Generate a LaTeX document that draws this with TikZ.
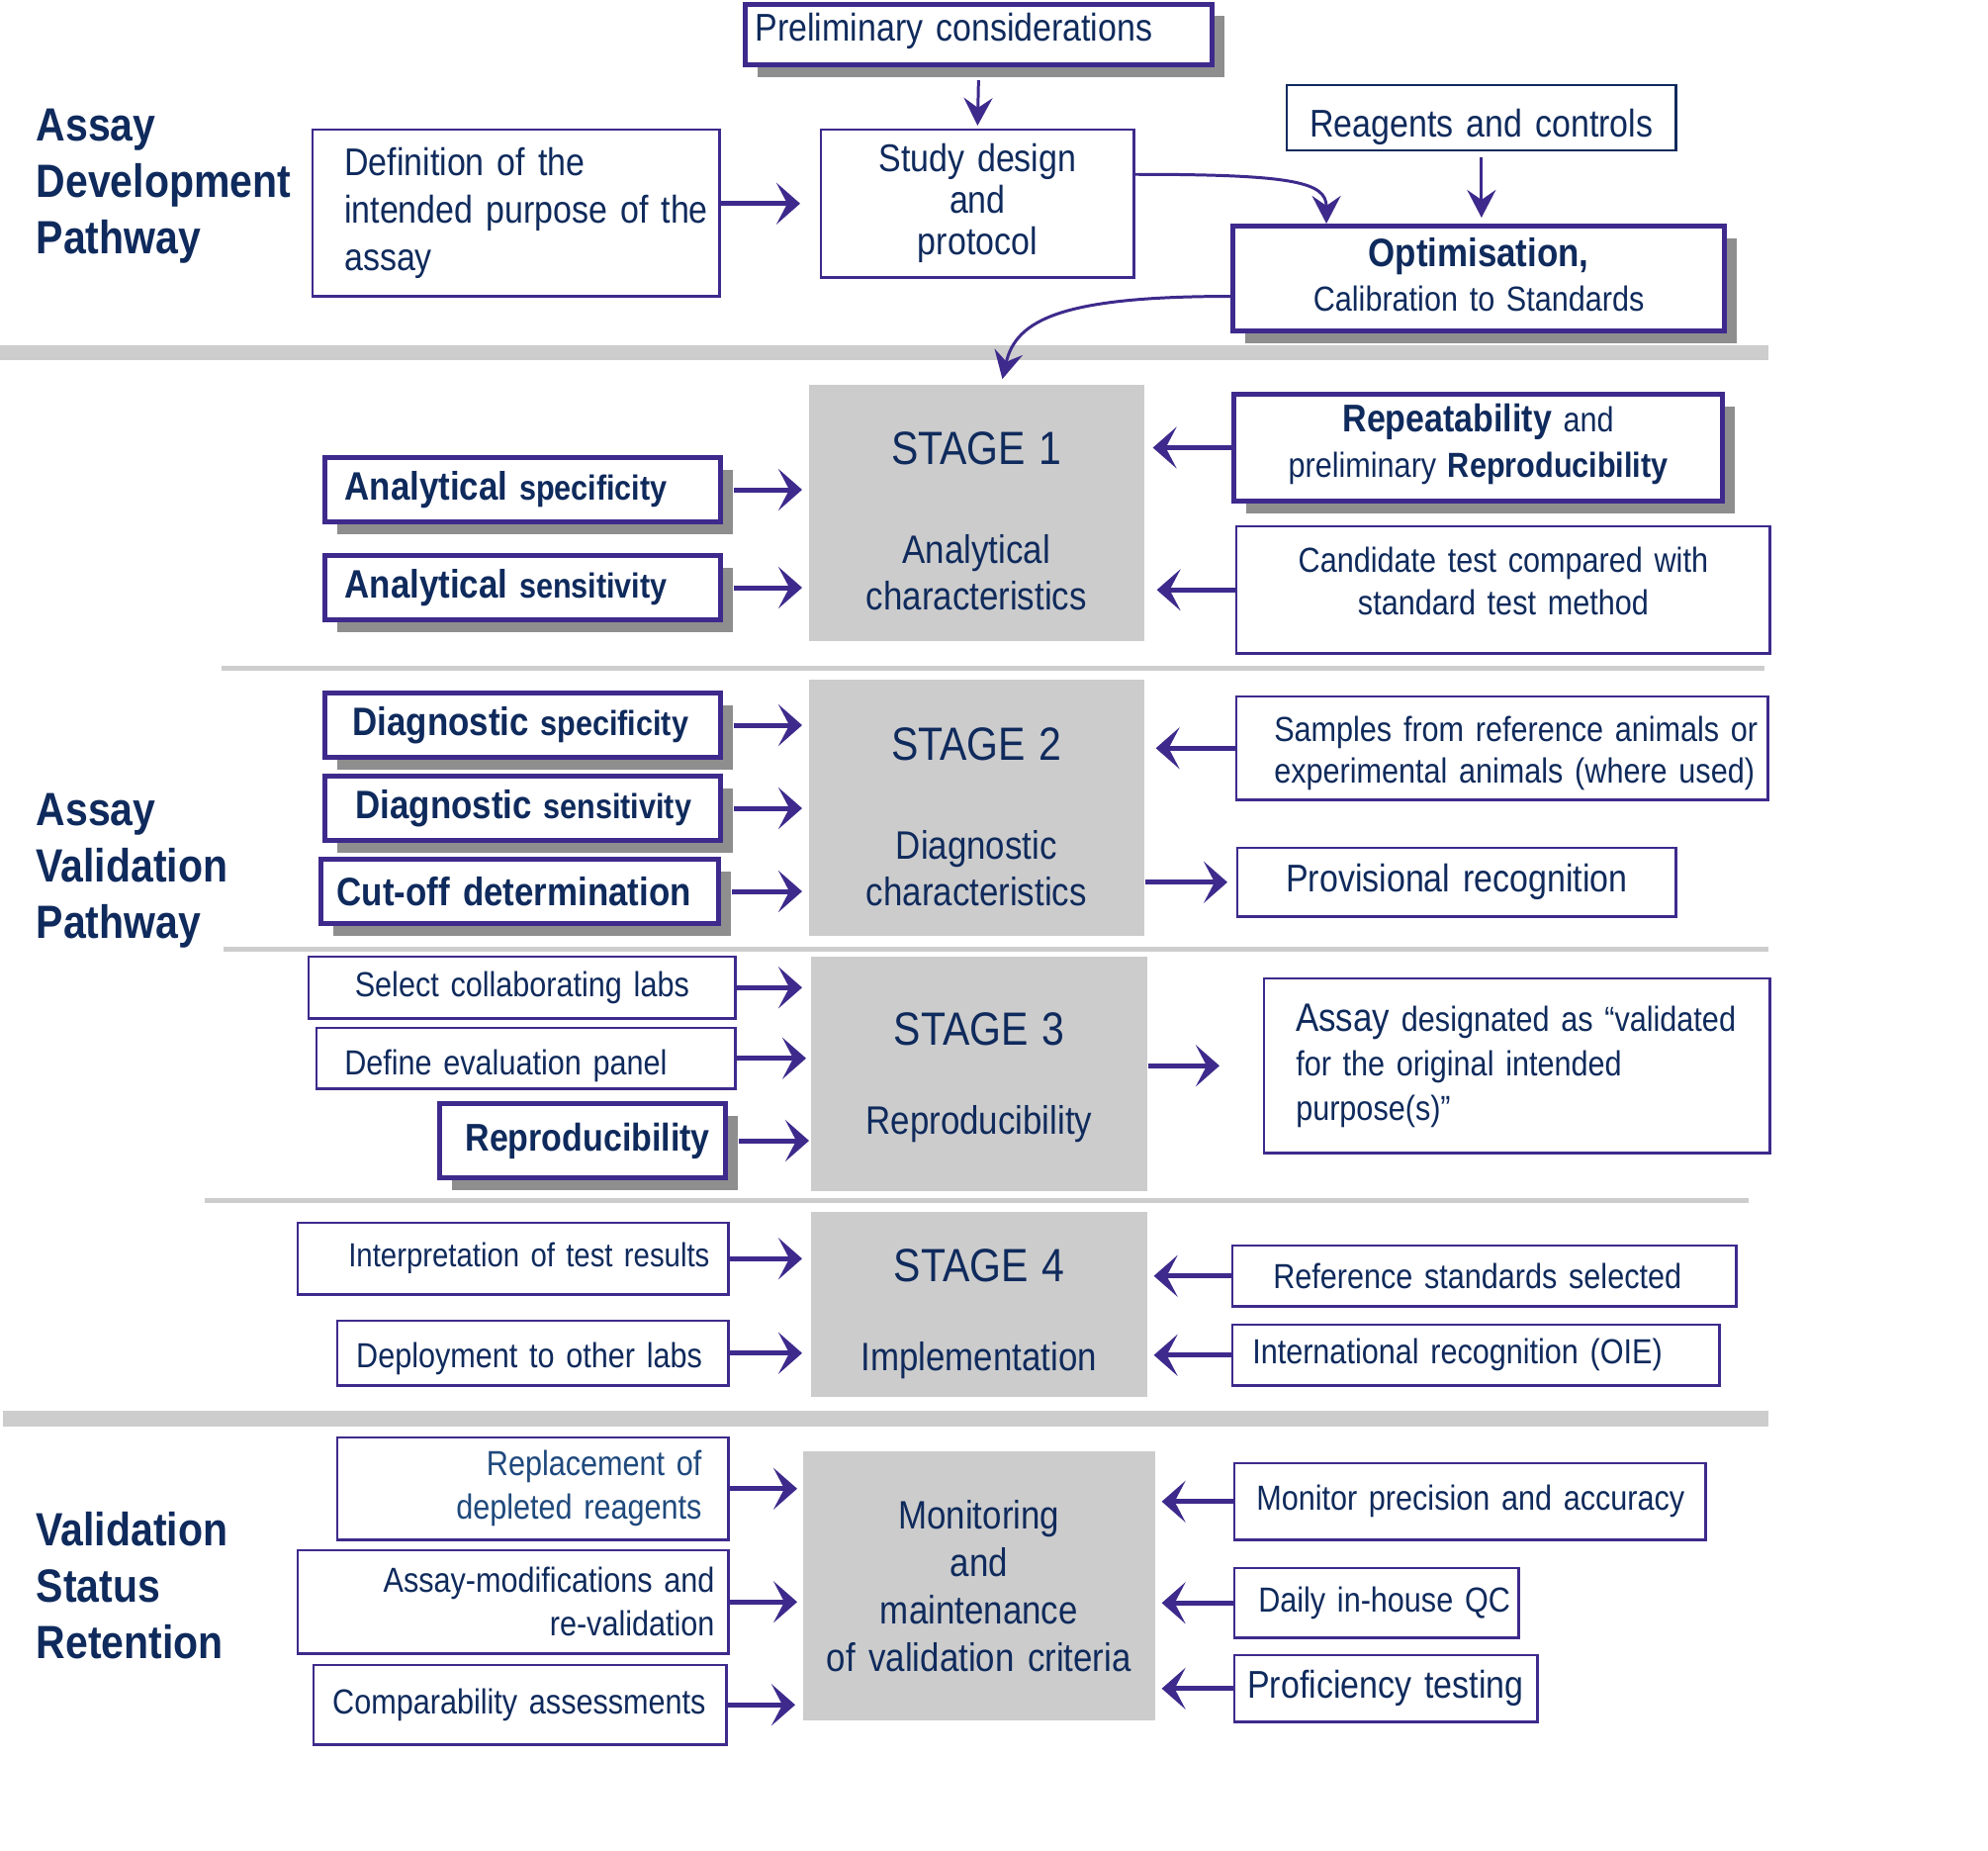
\documentclass[tikz,border=0pt]{standalone}
\usepackage{fontspec}
\setmainfont{Liberation Sans}[FakeStretch=0.87, WordSpace=0.8]
\usetikzlibrary{arrows.meta,shadows}
\definecolor{boxpurple}{HTML}{3E2A8C}
\definecolor{textnavy}{HTML}{0F2A5C}
\definecolor{textblue}{HTML}{1F497D}
\definecolor{panelgray}{HTML}{CCCCCC}
\definecolor{shadowgray}{HTML}{8E8E8E}
\definecolor{rulegray}{HTML}{CDCDCD}
\begin{document}
\begin{tikzpicture}[x=0.01cm, y=-0.01cm,
  box/.style={draw=boxpurple, line width=0.7pt, fill=white, anchor=north west,
    inner sep=0pt, text=textnavy, font=\setfs{10pt}{12.5pt}},
  boldbox/.style={box, line width=1.42pt,
    drop shadow={shadow xshift=0.12cm, shadow yshift=-0.12cm, fill=shadowgray, opacity=1}},
  lpad/.style={align=left, execute at begin node={\leftskip=#1}},
  rpad/.style={align=right, execute at begin node={\rightskip=#1}},
  sink/.style={execute at end node={\rule[-#1]{0pt}{0pt}}},
  lift/.style={execute at begin node={\rule{0pt}{#1}}},
  stagebox/.style={fill=panelgray, anchor=north west, inner sep=0pt, align=center,
    text=textnavy, font=\setfs{11.4pt}{13.4pt}},
  heading/.style={anchor=north west, inner sep=0pt, text width=4cm, align=left,
    text=textnavy, font=\setfs{13.4pt}{16.2pt}\bfseries},
  fatarrow/.style={draw=boxpurple, line width=1.42pt,
    -{Stealth[length=0.24cm, width=0.42cm, inset=0.11cm]}},
  thinarrow/.style={draw=boxpurple, line width=0.85pt,
    -{Stealth[length=0.28cm, width=0.29cm, inset=0.1cm]}}]
  \newcommand{\setfs}[2]{\fontsize{#1}{#2}\selectfont}
  \newcommand{\stagetitle}[1]{{\setfs{13.4pt}{13.4pt}#1}}

\path[use as bounding box, fill=white] (0,0) rectangle (2010,1870);

% separators
\fill[rulegray] (0,349) rectangle (1788,364);
\draw[rulegray, line width=0.05cm] (224,675) -- (1784,675);
\draw[rulegray, line width=0.05cm] (226,959) -- (1788,959);
\draw[rulegray, line width=0.05cm] (207,1213) -- (1768,1213);
\fill[rulegray] (3,1426) rectangle (1788,1442);

% development pathway
\node[heading] (devhead) at (36,109) {Assay\\Development\\Pathway};
\node[boldbox, text width=4.72cm, minimum height=0.61cm, lpad=0.1cm, sink=0.16cm, font=\setfs{11.1pt}{13.6pt}] (prelim) at (751,2) {Preliminary considerations};
\node[box, text width=4.11cm, minimum height=1.68cm, lpad=0.32cm, font=\setfs{11.1pt}{13.66pt}] (purpose) at (315,130) {Definition of the\\intended purpose of the\\assay};
\node[box, text width=3.16cm, minimum height=1.49cm, align=center, font=\setfs{11.1pt}{11.95pt}] (design) at (829,130) {Study design\\and\\protocol};
\node[box, draw=textnavy, text width=3.93cm, minimum height=0.66cm, align=center, lift=0.47cm, font=\setfs{11.1pt}{13.6pt}] (reagents) at (1300,85) {Reagents and controls};
\node[boldbox, text width=4.97cm, minimum height=1.06cm, align=center, sink=0.08cm, font=\setfs{10pt}{12.8pt}] (optim) at (1244,226) {{\setfs{11.4pt}{12.8pt}\bfseries Optimisation,}\\Calibration to Standards};

\draw[fatarrow, shorten >=0.2cm] (design.west -| purpose.east) -- (design.west);
\draw[thinarrow, shorten <=0.13cm, shorten >=0.03cm] (prelim.south) -- (design.north);
\draw[thinarrow, shorten <=0.06cm, shorten >=0.06cm] (reagents.south) -- (reagents.south |- optim.north);
\draw[thinarrow] ([yshift=0.295cm]design.east) .. controls +(160,0) and +(0,-42) .. ([xshift=0.97cm]optim.north west);

% stage 1
\node[stagebox, text width=3.39cm, minimum height=2.59cm, lift=0.5cm] (stage1) at (817,388) {\stagetitle{STAGE 1}\\[14.8pt]Analytical\\characteristics};
\node[boldbox, text width=4cm, minimum height=0.65cm, lpad=0.2cm, font=\setfs{10pt}{12.5pt}\bfseries] (aspec) at (326,460) {{\setfs{11.4pt}{12.5pt}Analytical} specificity};
\node[boldbox, text width=4cm, minimum height=0.65cm, lpad=0.2cm, font=\setfs{10pt}{12.5pt}\bfseries] (asens) at (326,559) {{\setfs{11.4pt}{12.5pt}Analytical} sensitivity};
\node[boldbox, text width=4.94cm, minimum height=1.08cm, align=center, sink=0.15cm, font=\setfs{10pt}{13.1pt}] (repeat) at (1245,396) {{\setfs{11.1pt}{13.1pt}\bfseries Repeatability} and\\preliminary \textbf{Reproducibility}};
\node[box, text width=5.39cm, minimum height=1.28cm, align=center, sink=0.18cm] (candidate) at (1249,531) {Candidate test compared with\\standard test method};

\draw[thinarrow, shorten >=0.05cm] ([yshift=-0.18cm]optim.west) .. controls +(-170,0) and +(15,-65) .. ([xshift=0.25cm]stage1.north);
\draw[fatarrow, shorten >=0.06cm] ([xshift=0.11cm]aspec.east) -- (aspec.east -| stage1.west);
\draw[fatarrow, shorten >=0.06cm] ([xshift=0.11cm]asens.east) -- (asens.east -| stage1.west);
\draw[fatarrow, shorten >=0.08cm] (repeat.west) -- (repeat.west -| stage1.east);
\draw[fatarrow, shorten >=0.12cm] (candidate.west) -- (candidate.west -| stage1.east);

% stage 2
\node[heading] (valhead) at (36,801) {Assay\\Validation\\Pathway};
\node[stagebox, text width=3.39cm, minimum height=2.59cm, lift=0.52cm] (stage2) at (817,686) {\stagetitle{STAGE 2}\\[14.8pt]Diagnostic\\characteristics};
\node[boldbox, text width=4cm, minimum height=0.65cm, lpad=0.28cm, font=\setfs{10pt}{12.5pt}\bfseries] (dspec) at (326,698) {{\setfs{11.4pt}{12.5pt}Diagnostic} specificity};
\node[boldbox, text width=4cm, minimum height=0.65cm, lpad=0.31cm, font=\setfs{10pt}{12.5pt}\bfseries] (dsens) at (326,782) {{\setfs{11.4pt}{12.5pt}Diagnostic} sensitivity};
\node[boldbox, text width=4.02cm, minimum height=0.65cm, lpad=0.16cm, font=\setfs{11.4pt}{13pt}\bfseries] (cutoff) at (322,866) {Cut-off determination};
\node[box, text width=5.37cm, minimum height=1.04cm, lpad=0.38cm, lift=0.36cm, font=\setfs{10pt}{12pt}] (samples) at (1249,703) {Samples from reference animals or\\experimental animals (where used)};
\node[box, text width=4.43cm, minimum height=0.69cm, align=center, font=\setfs{11.1pt}{13.6pt}] (provis) at (1250,856) {Provisional recognition};

\draw[fatarrow, shorten >=0.06cm] ([xshift=0.11cm]dspec.east) -- (dspec.east -| stage2.west);
\draw[fatarrow, shorten >=0.06cm] ([xshift=0.11cm]dsens.east) -- (dsens.east -| stage2.west);
\draw[fatarrow, shorten >=0.06cm] ([xshift=0.11cm]cutoff.east) -- (cutoff.east -| stage2.west);
\draw[fatarrow, shorten >=0.11cm] (samples.west) -- (samples.west -| stage2.east);
\draw[fatarrow, shorten >=0.09cm] (stage2.east |- provis.west) -- (provis.west);

% stage 3
\node[stagebox, text width=3.4cm, minimum height=2.37cm, lift=0.4cm] (stage3) at (819,966) {\stagetitle{STAGE 3}\\[12.2pt]Reproducibility};
\node[box, text width=4.31cm, minimum height=0.62cm, align=center] (labs) at (311,966) {Select collaborating labs};
\node[box, text width=4.23cm, minimum height=0.61cm, lpad=0.28cm, lift=0.4cm] (panel) at (319,1038) {Define evaluation panel};
\node[boldbox, text width=2.89cm, minimum height=0.75cm, lpad=0.26cm, font=\setfs{11.1pt}{13pt}\bfseries] (reprod) at (442,1113) {Reproducibility};
\node[box, text width=5.11cm, minimum height=1.76cm, lpad=0.32cm, font=\setfs{10pt}{12.8pt}] (designated) at (1277,988) {{\setfs{11.4pt}{12.8pt}Assay} designated as “validated\\for the original intended\\purpose(s)”};

\draw[fatarrow, shorten >=0.08cm] (labs.east) -- (labs.east -| stage3.west);
\draw[fatarrow, shorten >=0.04cm] (panel.east) -- (panel.east -| stage3.west);
\draw[fatarrow, shorten >=0.01cm] ([xshift=0.11cm]reprod.east) -- (reprod.east -| stage3.west);
\draw[fatarrow, shorten >=0.44cm] (stage3.east |- designated.west) -- (designated.west);

% stage 4
\node[stagebox, text width=3.4cm, minimum height=1.87cm, lift=0.52cm] (stage4) at (819,1224) {\stagetitle{STAGE 4}\\[12.2pt]Implementation};
\node[box, text width=4.35cm, minimum height=0.72cm, lpad=0.51cm, font=\setfs{9.6pt}{12pt}] (interp) at (300,1235) {Interpretation of test results};
\node[box, text width=3.95cm, minimum height=0.65cm, lpad=0.19cm, lift=0.36cm] (deploy) at (340,1334) {Deployment to other labs};
\node[box, text width=5.09cm, minimum height=0.61cm, lpad=0.41cm] (refstd) at (1245,1258) {Reference standards selected};
\node[box, text width=4.92cm, minimum height=0.61cm, lpad=0.2cm] (intl) at (1245,1338) {International recognition (OIE)};

\draw[fatarrow, shorten >=0.08cm] (interp.east) -- (interp.east -| stage4.west);
\draw[fatarrow, shorten >=0.08cm] (deploy.east) -- (deploy.east -| stage4.west);
\draw[fatarrow, shorten >=0.06cm] (refstd.west) -- (refstd.west -| stage4.east);
\draw[fatarrow, shorten >=0.06cm] (intl.west) -- (intl.west -| stage4.east);

% status retention
\node[heading] (rethead) at (36,1528) {Validation\\Status\\Retention};
\node[stagebox, text width=3.56cm, minimum height=2.72cm, font=\setfs{11.4pt}{13.66pt}] (monitor) at (811,1466) {Monitoring\\and\\maintenance\\of validation criteria};
\node[box, text=textblue, text width=3.95cm, minimum height=1.03cm, rpad=0.27cm] (replace) at (340,1452) {Replacement of\\depleted reagents};
\node[box, text width=4.35cm, minimum height=1.04cm, rpad=0.14cm] (modif) at (300,1566) {Assay-modifications and\\re-validation};
\node[box, text width=4.17cm, minimum height=0.8cm, lpad=0.19cm] (compar) at (316,1682) {Comparability assessments};
\node[box, text width=4.76cm, minimum height=0.77cm, lpad=0.22cm] (monprec) at (1247,1478) {Monitor precision and accuracy};
\node[box, text width=2.87cm, minimum height=0.7cm, lpad=0.24cm] (dailyqc) at (1247,1584) {Daily in-house QC};
\node[box, text width=3.06cm, minimum height=0.67cm, lpad=0.13cm, font=\setfs{11.1pt}{13.6pt}] (profic) at (1247,1672) {Proficiency testing};

\draw[fatarrow, shorten >=0.05cm] (replace.east) -- (replace.east -| monitor.west);
\draw[fatarrow, shorten >=0.05cm] (modif.east) -- (modif.east -| monitor.west);
\draw[fatarrow, shorten >=0.07cm] (compar.east) -- (compar.east -| monitor.west);
\draw[fatarrow, shorten >=0.06cm] (monprec.west) -- (monprec.west -| monitor.east);
\draw[fatarrow, shorten >=0.06cm] (dailyqc.west) -- (dailyqc.west -| monitor.east);
\draw[fatarrow, shorten >=0.06cm] (profic.west) -- (profic.west -| monitor.east);
\end{tikzpicture}
\end{document}
